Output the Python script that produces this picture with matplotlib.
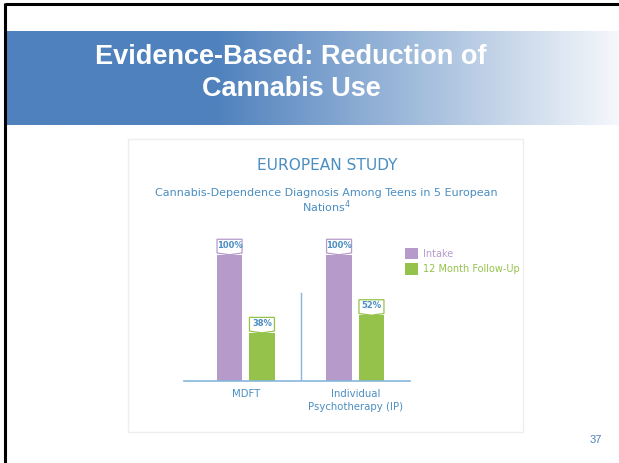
import numpy as np
import matplotlib
matplotlib.use('Agg')
from matplotlib import pyplot as plt
from matplotlib.patches import Rectangle

groups = ['MDFT', 'Individual\nPsychotherapy (IP)']
series = ['Intake', '12 Month Follow-Up']
intake = [100, 100]
followup = [38, 52]
labels_intake = ['100%', '100%']
labels_follow = ['38%', '52%']

purple = '#B59ACA'
green = '#95C24B'
blue_txt = '#4A8EC2'
axis_col = '#86B6DC'

W, H = 619, 463
fig = plt.figure(figsize=(W / 100, H / 100), dpi=100)

# slide background in pixel coordinates
bg = fig.add_axes([0, 0, 1, 1])
bg.set_xlim(0, W)
bg.set_ylim(H, 0)
bg.axis('off')

# title banner with gradient
xs = np.arange(W)
t = np.clip((xs - 210) / 420, 0, 1)
c0 = np.array([79, 129, 189]) / 255
c1 = np.array([250, 251, 253]) / 255
grad = c0[None, :] * (1 - t[:, None]) + c1[None, :] * t[:, None]
bg.imshow(grad[None, :, :], extent=[6, W, 125, 31], aspect='auto', zorder=1)
bg.plot([5, 5], [3, H], color='black', lw=2.2, zorder=3, solid_capstyle='butt')
bg.plot([5, W], [4, 4], color='black', lw=2.2, zorder=3, solid_capstyle='butt')
bg.text(291, 57, 'Evidence-Based: Reduction of', ha='center', va='center',
        color='white', fontsize=19.5, fontweight='bold', family='Liberation Sans', zorder=4)
bg.text(291, 89, 'Cannabis Use', ha='center', va='center',
        color='white', fontsize=19.5, fontweight='bold', family='Liberation Sans', zorder=4)
bg.text(596, 440, '37', ha='center', va='center', color='#4F81BD',
        fontsize=8, family='Liberation Sans')

# chart frame
bg.add_patch(Rectangle((128, 139), 395, 293, fill=False, edgecolor='#EEEEEE', lw=1))
bg.text(327, 165, 'EUROPEAN STUDY', ha='center', va='center', color=blue_txt,
        fontsize=11.1, family='DejaVu Sans')
bg.text(326, 193, 'Cannabis-Dependence Diagnosis Among Teens in 5 European',
        ha='center', va='center', color=blue_txt, fontsize=8.0, family='DejaVu Sans')
bg.text(326, 207, 'Nations$^4$', ha='center', va='center', color=blue_txt,
        fontsize=8.0, family='DejaVu Sans')

# bar chart
ax = fig.add_axes([184 / W, 1 - 381 / H, 226 / W, 126 / H])
ax.patch.set_alpha(0)
x = np.arange(len(groups))
w = 0.233
off = 0.148
b1 = ax.bar(x - off, intake, w, color=purple, label=series[0])
b2 = ax.bar(x + off, followup, w, color=green, label=series[1])
ax.set_xlim(-0.564, 1.5)
ax.set_ylim(0, 100)
for s in ['top', 'right', 'left']:
    ax.spines[s].set_visible(False)
ax.spines['bottom'].set_color(axis_col)
ax.spines['bottom'].set_linewidth(1.2)
ax.set_yticks([])
ax.set_xticks(x)
ax.set_xticklabels(groups, color=blue_txt, fontsize=7.3, family='DejaVu Sans', linespacing=1.3)
ax.tick_params(axis='x', length=0, pad=6)
ax.plot([0.5, 0.5], [0, 70], color=axis_col, lw=1)


def callout(cx, v, text, edge):
    hw = w / 2 * 0.98
    ys_b = v + 1.6
    ys_t = v + 12.5
    px = [cx - hw, cx + hw, cx + hw, cx, cx - hw, cx - hw]
    py = [ys_t, ys_t, ys_b, v + 0.2, ys_b, ys_t]
    ax.fill(px, py, facecolor='white', edgecolor=edge, lw=0.9, clip_on=False, zorder=5)
    ax.text(cx, (ys_b + ys_t) / 2 + 0.5, text, ha='center', va='center', color=blue_txt,
            fontsize=6.0, fontweight='bold', family='DejaVu Sans', clip_on=False, zorder=6)


for i in range(len(groups)):
    callout(x[i] - off, intake[i], labels_intake[i], purple)
    callout(x[i] + off, followup[i], labels_follow[i], green)

leg = ax.legend(loc='upper left', bbox_to_anchor=(396 / W, 1 - 239 / H),
                bbox_transform=fig.transFigure, frameon=False, fontsize=7.0,
                handlelength=1.4, handleheight=1.4, handletextpad=0.5,
                labelspacing=0.45, labelcolor=[purple, green])

fig.savefig('out.png', dpi=100)
